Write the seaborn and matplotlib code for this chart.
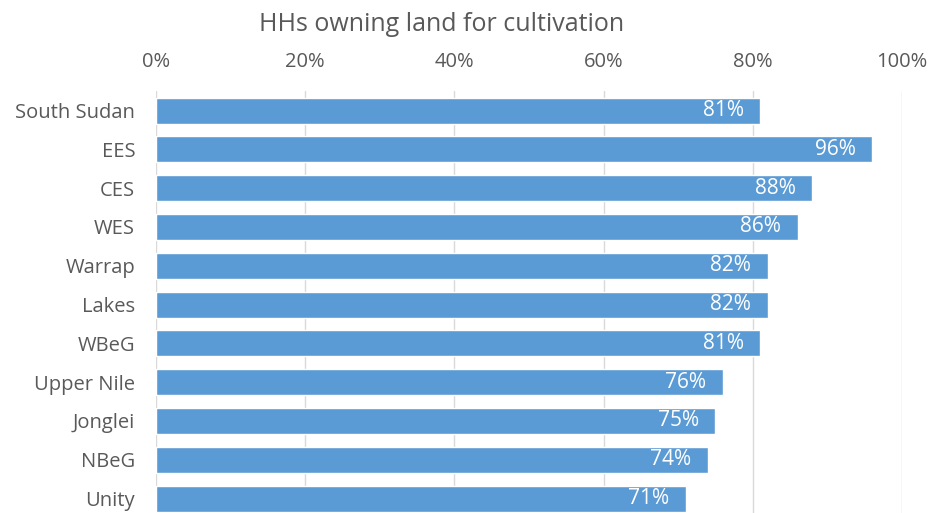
import matplotlib
matplotlib.use("Agg")
import matplotlib.pyplot as plt
import seaborn as sns
import pandas as pd
from matplotlib.ticker import PercentFormatter

regions = ["South Sudan", "EES", "CES", "WES", "Warrap", "Lakes", "WBeG",
           "Upper Nile", "Jonglei", "NBeG", "Unity"]
share_pct = [81, 96, 88, 86, 82, 82, 81, 76, 75, 74, 71]
x_ticks = [0, 20, 40, 60, 80, 100]

df = pd.DataFrame({"region": regions, "share": share_pct})

sns.set_theme(style="white")
plt.rcParams["font.family"] = ["Open Sans", "DejaVu Sans"]

fig = plt.figure(figsize=(9.34, 5.13), dpi=100)
ax = fig.add_axes([0.167, -0.0097, 0.7987, 0.832])

sns.barplot(data=df, x="share", y="region", orient="h", color="#5B9BD5",
            saturation=1, width=0.67, ax=ax, zorder=3)

ax.set_xlim(0, 100)
ax.set_xticks(x_ticks)
ax.xaxis.set_major_formatter(PercentFormatter(decimals=0))
ax.xaxis.tick_top()
ax.grid(axis="x", color="#D9D9D9", linewidth=1, zorder=0)
ax.set_axisbelow(True)
for s in ax.spines.values():
    s.set_visible(False)
ax.tick_params(axis="x", length=0, pad=14, labelsize=14.5, labelcolor="#595959")
ax.tick_params(axis="y", length=0, pad=15, labelsize=14.5, labelcolor="#595959")
ax.set_xlabel("")
ax.set_ylabel("")

for i, v in enumerate(share_pct):
    ax.annotate(f"{v}%", xy=(v, i), xytext=(-12, 0), textcoords="offset points",
                ha="right", va="center", color="white", fontsize=15)

fig.text(0.4727, 0.953, "HHs owning land for cultivation", ha="center", va="center",
         fontsize=18, color="#595959")

fig.savefig("out.png", dpi=100)
